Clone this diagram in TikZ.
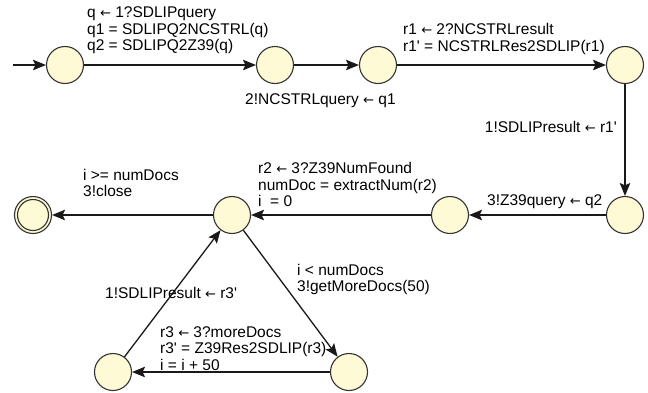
\documentclass[tikz,border=0pt]{standalone}
\usepackage{fontspec}
\setmainfont{Liberation Sans}
\newfontfamily\arrowfont{DejaVu Sans}
\usetikzlibrary{arrows.meta}
\definecolor{sfill}{HTML}{FFFAD6}
\definecolor{sline}{HTML}{333333}
\newcommand\lbl[1]{\begin{tabular}[t]{@{}l@{}}#1\end{tabular}}
\newcommand\qs{\textquotesingle}
\newcommand\larr{{\arrowfont\fontsize{13}{13}\selectfont ←}}
\begin{document}
\begin{tikzpicture}[x=1pt,y=-1pt,
  font=\fontsize{15.5}{16.5}\selectfont,
  state/.style={circle, draw=sline, fill=sfill, line width=1.1pt, minimum size=37pt, inner sep=0pt},
  conn/.style={line width=1.3pt, draw=black!90, -{Stealth[length=13pt,width=10.5pt,inset=2.5pt]}},
  lab/.style={inner sep=0pt, anchor=base west}]
\useasboundingbox (0,0) rectangle (648,392);
% states
\node[state] (s0) at (65,65) {};
\node[state] (s1) at (275,65) {};
\node[state] (s2) at (378,65) {};
\node[state] (s3) at (625,65) {};
\node[state] (s4) at (625,215) {};
\node[state] (s5) at (450,215) {};
\node[state] (s6) at (232,215) {};
\node[state] (sf) at (33,215) {};
\draw[sline, line width=1.1pt] (sf.center) circle (15.5pt);
\node[state] (s7) at (113,372) {};
\node[state] (s8) at (349,372) {};
\coordinate (start) at (13,65);
% connectors
\draw[conn] (start) -- (s0);
\draw[conn] (s0) -- (s1);
\draw[conn] (s1) -- (s2);
\draw[conn] (s2) -- (s3);
\draw[conn] (s3) -- (s4);
\draw[conn] (s4) -- (s5);
\draw[conn] (s5) -- (s6);
\draw[conn] (s6) -- (sf);
\draw[conn] (s6) -- (s8);
\draw[conn] (s8) -- (s7);
\draw[conn] (s7) -- (s6);
% labels
\node[lab] (l1) at (87,17.5) {\lbl{q \larr{} 1?SDLIPquery\\ q1 = SDLIPQ2NCSTRL(q)\\ q2 = SDLIPQ2Z39(q)}};
\node[lab] (l2) at (245,104) {2!NCSTRLquery \larr{} q1};
\node[lab] (l3) at (403,34.5) {\lbl{r1 \larr{} 2?NCSTRLresult\\ r1\qs{} = NCSTRLRes2SDLIP(r1)}};
\node[inner sep=0pt, anchor=base east] (l4) at (617,132.5) {1!SDLIPresult \larr{} r1\qs};
\node[lab] (l5) at (487,205.5) {3!Z39query \larr{} q2};
\node[lab] (l6) at (258,173.5) {\lbl{r2 \larr{} 3?Z39NumFound\\ numDoc = extractNum(r2)\\ i \ = 0}};
\node[lab] (l7) at (83,180) {\lbl{i >= numDocs\\ 3!close}};
\node[lab] (l8) at (297,275) {\lbl{i < numDocs\\ 3!getMoreDocs(50)}};
\node[lab] (l9) at (105,298) {1!SDLIPresult \larr{} r3\qs};
\node[lab] (l10) at (160,337) {\lbl{r3 \larr{} 3?moreDocs\\ r3\qs{} = Z39Res2SDLIP(r3)\\ i = i + 50}};
\end{tikzpicture}
\end{document}
